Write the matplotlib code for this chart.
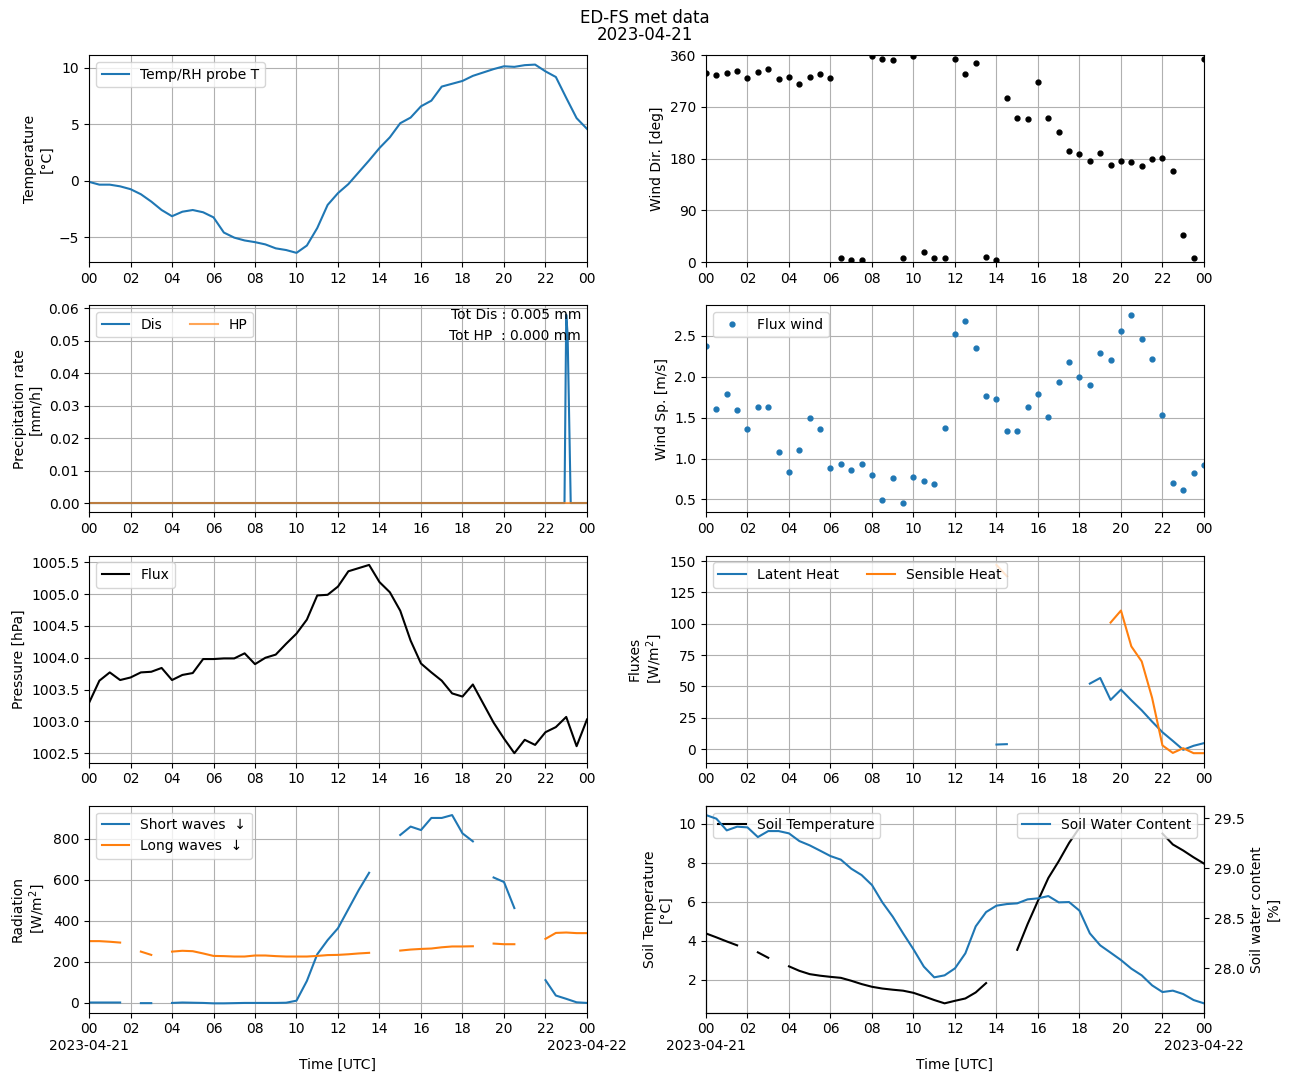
import numpy as np
import pandas as pd
import matplotlib
matplotlib.use('Agg')
import matplotlib.pyplot as plt
import matplotlib.dates as mdates
from matplotlib.ticker import FuncFormatter

nan = np.nan

# 30-min time grid for 2023-04-21
times = pd.date_range('2023-04-21 00:00', '2023-04-22 00:00', freq='30min')

temp_T = [-0.1, -0.35, -0.35, -0.5, -0.75, -1.2, -1.85, -2.6, -3.15, -2.75,
          -2.6, -2.8, -3.25, -4.6, -5.05, -5.3, -5.45, -5.65, -6.0, -6.15,
          -6.4, -5.75, -4.2, -2.15, -1.1, -0.3, 0.75, 1.8, 2.9, 3.85,
          5.1, 5.6, 6.6, 7.1, 8.35, 8.6, 8.85, 9.3, 9.6, 9.9,
          10.15, 10.1, 10.25, 10.3, 9.7, 9.2, 7.35, 5.55, 4.6]

wind_dir = [329, 325, 329, 332, 320, 330, 336, 318, 322, 310,
            322, 327, 320, 7, 4, 4, 358, 353, 351, 7,
            358, 17, 7, 7, 353, 327, 346, 9, 4, 285,
            250, 249, 313, 250, 226, 193, 188, 176, 190, 169,
            176, 174, 167, 179, 181, 158, 47, 7, 353]

wind_sp = [2.38, 1.60, 1.785, 1.59, 1.367, 1.625, 1.625, 1.083, 0.837, 1.108,
           1.50, 1.367, 0.886, 0.935, 0.861, 0.935, 0.804, 0.492, 0.763, 0.455,
           0.775, 0.726, 0.689, 1.379, 2.525, 2.685, 2.352, 1.76, 1.724, 1.342,
           1.342, 1.625, 1.785, 1.514, 1.933, 2.18, 1.995, 1.896, 2.29, 2.204,
           2.56, 2.76, 2.463, 2.217, 1.527, 0.701, 0.615, 0.824, 0.923]

# precipitation (finer sampling around the single event)
dis_times = pd.to_datetime(['2023-04-21 00:00', '2023-04-21 22:55', '2023-04-21 23:00',
                            '2023-04-21 23:04', '2023-04-21 23:13', '2023-04-22 00:00'])
dis_rate = [0.0, 0.0, 0.058, 0.052, 0.0, 0.0]
hp_times = pd.to_datetime(['2023-04-21 00:00', '2023-04-22 00:00'])
hp_rate = [0.0, 0.0]
tot_dis = 0.005
tot_hp = 0.000

pressure = [1003.29, 1003.64, 1003.77, 1003.65, 1003.69, 1003.77, 1003.78, 1003.84, 1003.65, 1003.73,
            1003.76, 1003.98, 1003.98, 1003.99, 1003.99, 1004.07, 1003.90, 1004.0, 1004.05, 1004.22,
            1004.38, 1004.60, 1004.98, 1004.99, 1005.12, 1005.36, 1005.41, 1005.46, 1005.19, 1005.03,
            1004.74, 1004.27, 1003.91, 1003.77, 1003.64, 1003.44, 1003.39, 1003.58, 1003.28, 1002.98,
            1002.73, 1002.50, 1002.71, 1002.63, 1002.83, 1002.91, 1003.07, 1002.61, 1003.03]

latent = [nan] * 28 + [3.7, 4.0] + [nan] * 7 + \
         [52.3, 56.8, 39.3, 47.5, 39.0, 31.0, 22.0, 13.5, 6.6, -0.5, 2.7, 4.8]
sensible = [nan] * 28 + [147.0, 138.0] + [nan] * 9 + \
           [101.0, 110.6, 82.0, 70.0, 41.0, 3.0, -3.0, 0.8, -3.2, -3.2]

short_wave = [2, 2, 2, 2, nan, -1, -1, nan, 0, 2,
              1, 0, -2, -2, -1, 0, 0, 0, 0, 1,
              11, 107, 237, 306, 364, 457, 550, 634, nan, nan,
              818, 859, 842, 901, 901, 915, 826, 787, nan, 611,
              589, 462, nan, nan, 111, 36, 20, 3, 0]
long_wave = [301, 301, 298, 294, nan, 250, 234, nan, 250, 254,
             252, 241, 229, 228, 226, 226, 231, 231, 228, 226,
             226, 226, 229, 233, 234, 237, 241, 244, nan, nan,
             255, 260, 263, 265, 271, 275, 275, 276, nan, 289,
             286, 286, nan, nan, 312, 341, 343, 340, 340]

soil_T = [4.37, 4.17, 3.96, 3.76, nan, 3.40, 3.12, nan, 2.68, 2.45,
          2.28, 2.20, 2.14, 2.09, 1.94, 1.77, 1.63, 1.54, 1.48, 1.43,
          1.32, 1.14, 0.95, 0.78, 0.91, 1.03, 1.34, 1.82, nan, nan,
          3.53, 4.85, 6.05, 7.22, 8.08, 9.02, 9.8, nan, nan, nan,
          10.45, nan, nan, nan, 9.5, 8.94, 8.63, 8.28, 7.96]
soil_wc = [29.533, 29.497, 29.38, 29.417, 29.41, 29.313, 29.373, 29.373, 29.35, 29.273,
           29.23, 29.177, 29.123, 29.087, 28.997, 28.933, 28.833, 28.66, 28.517, 28.35,
           28.19, 28.017, 27.91, 27.93, 28.0, 28.15, 28.42, 28.563, 28.627, 28.643,
           28.65, 28.69, 28.70, 28.723, 28.66, 28.663, 28.577, 28.35, 28.23, 28.157,
           28.083, 27.997, 27.93, 27.83, 27.763, 27.777, 27.743, 27.683, 27.65]


def hour_fmt(x, pos):
    return mdates.num2date(x).strftime('%H')


def hour_date_fmt(x, pos):
    d = mdates.num2date(x)
    if d.hour == 0:
        return d.strftime('%H\n%Y-%m-%d')
    return d.strftime('%H')


fig, axes = plt.subplots(4, 2, figsize=(12.9, 10.82))
fig.subplots_adjust(left=0.069, right=0.9333, top=0.949, bottom=0.064,
                    wspace=0.239, hspace=0.208)
fig.suptitle('ED-FS met data\n2023-04-21', fontsize=12, y=0.992, linespacing=0.96)

# temperature
ax = axes[0, 0]
ax.plot(times, temp_T, color='C0', label='Temp/RH probe T')
ax.set_ylabel('Temperature\n[°C]')
ax.legend(loc='upper left')

# wind direction
ax = axes[0, 1]
ax.plot(times, wind_dir, 'o', color='k', markersize=3.5)
ax.set_ylim(0, 360)
ax.set_yticks([0, 90, 180, 270, 360])
ax.set_ylabel('Wind Dir. [deg]')

# precipitation
ax = axes[1, 0]
ax.plot(dis_times, dis_rate, color='C0', label='Dis')
ax.plot(hp_times, hp_rate, color='C1', alpha=0.7, label='HP')
ax.set_ylabel('Precipitation rate\n[mm/h]')
ax.legend(loc='upper left', ncol=2)
ax.text(0.988, 0.985, f'Tot Dis : {tot_dis:.3f} mm', transform=ax.transAxes,
        ha='right', va='top')
ax.text(0.988, 0.885, f'Tot HP  : {tot_hp:.3f} mm', transform=ax.transAxes,
        ha='right', va='top')

# wind speed
ax = axes[1, 1]
ax.plot(times, wind_sp, 'o', color='C0', markersize=3.5, label='Flux wind')
ax.set_ylabel('Wind Sp. [m/s]')
ax.legend(loc='upper left')

# pressure
ax = axes[2, 0]
ax.plot(times, pressure, color='k', label='Flux')
ax.set_ylabel('Pressure [hPa]')
ax.legend(loc='upper left')

# fluxes
ax = axes[2, 1]
ax.plot(times, latent, color='C0', label='Latent Heat')
ax.plot(times, sensible, color='C1', label='Sensible Heat')
ax.set_ylabel('Fluxes\n[W/m$^2$]')
ax.legend(loc='upper left', ncol=2)

# radiation
ax = axes[3, 0]
ax.plot(times, short_wave, color='C0', label='Short waves  ↓')
ax.plot(times, long_wave, color='C1', label='Long waves  ↓')
ax.set_ylabel('Radiation\n[W/m$^2$]')
ax.legend(loc='upper left')

# soil
ax = axes[3, 1]
ax.plot(times, soil_T, color='k', label='Soil Temperature')
ax.set_ylabel('Soil Temperature\n[°C]')
ax.legend(loc='upper left')
ax2 = ax.twinx()
ax2.plot(times, soil_wc, color='C0', label='Soil Water Content')
ax2.set_ylabel('Soil water content\n[%]')
ax2.legend(loc='upper right')

for i, row in enumerate(axes):
    for ax in row:
        ax.set_xlim(times[0], times[-1])
        ax.xaxis.set_major_locator(mdates.HourLocator(byhour=range(0, 24, 2)))
        if i == 3:
            ax.xaxis.set_major_formatter(FuncFormatter(hour_date_fmt))
            ax.set_xlabel('Time [UTC]')
        else:
            ax.xaxis.set_major_formatter(FuncFormatter(hour_fmt))
        ax.grid(True)

plt.savefig('out.png', dpi=100)
